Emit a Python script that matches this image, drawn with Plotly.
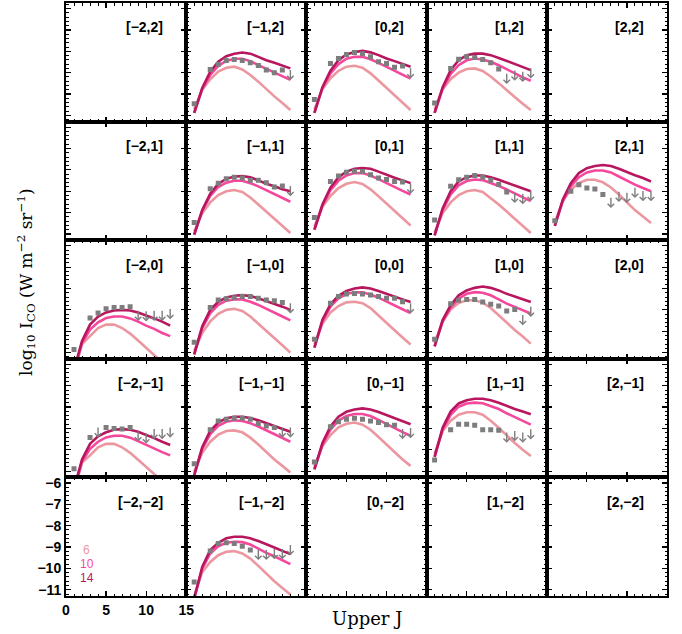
import plotly.graph_objects as go
from plotly.subplots import make_subplots

# ---------------- data ----------------
J_OBS = [1, 3, 4, 5, 6, 7, 8, 9, 10, 11, 12, 13]
J_MOD = [1, 2, 3, 4, 5, 6, 7, 8, 9, 10, 11, 12, 13]

GRID_X = [-2, -1, 0, 1, 2]      # column offsets
GRID_Y = [2, 1, 0, -1, -2]      # row offsets

PANEL_POS = [(-1, 2), (0, 2), (1, 2),
             (-1, 1), (0, 1), (1, 1), (2, 1),
             (-2, 0), (-1, 0), (0, 0), (1, 0),
             (-2, -1), (-1, -1), (0, -1), (1, -1),
             (-1, -2)]

OBS = [
    [-10.45, -8.85, -8.62, -8.43, -8.38, -8.43, -8.54, -8.66, -8.88, -9.00, -8.88, -8.80],
    [-10.26, -8.57, -8.34, -8.15, -8.06, -8.11, -8.26, -8.49, -8.57, -8.75, -8.69, -8.72],
    [-10.42, -8.80, -8.37, -8.26, -8.29, -8.38, -8.54, -8.83, -8.98, -8.83, -8.89, -8.72],
    [-10.46, -8.88, -8.62, -8.42, -8.34, -8.38, -8.49, -8.49, -8.60, -8.80, -8.75, -8.68],
    [-10.23, -8.54, -8.29, -8.11, -8.06, -8.08, -8.23, -8.38, -8.45, -8.54, -8.57, -8.57],
    [-10.34, -8.77, -8.46, -8.34, -8.26, -8.34, -8.49, -8.68, -9.03, -9.00, -9.06, -8.91],
    [-10.38, -9.00, -8.69, -8.85, -8.89, -9.15, -9.23, -8.95, -9.00, -8.77, -8.92, -8.92],
    [-10.85, -9.38, -9.15, -8.95, -8.89, -8.89, -8.85, -8.97, -9.00, -8.97, -8.97, -8.89],
    [-10.51, -8.89, -8.54, -8.48, -8.43, -8.38, -8.38, -8.46, -8.54, -8.57, -8.66, -8.62],
    [-10.38, -8.69, -8.38, -8.26, -8.23, -8.26, -8.31, -8.38, -8.46, -8.46, -8.62, -8.62],
    [-10.37, -8.71, -8.55, -8.51, -8.51, -8.63, -8.74, -8.82, -9.05, -8.98, -9.17, -8.78],
    [-10.88, -9.42, -8.88, -8.95, -9.00, -9.03, -8.95, -9.06, -9.15, -8.95, -8.95, -8.88],
    [-10.65, -9.06, -8.65, -8.57, -8.52, -8.52, -8.57, -8.77, -8.88, -8.95, -8.88, -8.88],
    [-10.57, -8.92, -8.68, -8.57, -8.52, -8.57, -8.65, -8.72, -8.83, -8.85, -8.95, -8.91],
    [-10.47, -9.06, -8.80, -8.80, -8.85, -9.06, -9.06, -9.08, -9.12, -9.05, -9.12, -8.97],
    [-10.64, -9.18, -8.83, -8.80, -8.83, -8.96, -9.14, -9.06, -9.06, -9.02, -9.02, -8.83],
]

# 1 = upper limit (drawn as arrow)
UPPER = [
    [0, 0, 0, 0, 0, 0, 0, 0, 0, 0, 0, 1],
    [0, 0, 0, 0, 0, 0, 0, 0, 0, 0, 0, 1],
    [0, 0, 0, 0, 0, 0, 0, 0, 1, 1, 1, 1],
    [0, 0, 0, 0, 0, 0, 0, 0, 0, 0, 0, 1],
    [0, 0, 0, 0, 0, 0, 0, 0, 0, 0, 0, 1],
    [0, 0, 0, 0, 0, 0, 0, 0, 0, 1, 1, 1],
    [0, 0, 0, 0, 0, 0, 1, 1, 1, 1, 1, 1],
    [0, 0, 0, 0, 0, 0, 0, 1, 1, 1, 1, 1],
    [0, 0, 0, 0, 0, 0, 0, 0, 0, 0, 0, 1],
    [0, 0, 0, 0, 0, 0, 0, 0, 0, 0, 0, 1],
    [0, 0, 0, 0, 0, 0, 0, 0, 0, 0, 1, 1],
    [0, 0, 1, 0, 0, 0, 0, 1, 1, 1, 1, 1],
    [0, 0, 0, 0, 0, 0, 0, 0, 0, 0, 1, 1],
    [0, 0, 0, 0, 0, 0, 0, 0, 0, 0, 1, 1],
    [0, 0, 0, 0, 0, 0, 0, 0, 1, 1, 1, 1],
    [0, 0, 0, 0, 0, 0, 0, 1, 1, 1, 1, 1],
]

MOD14 = [
    [-10.88, -9.72, -8.95, -8.49, -8.23, -8.11, -8.06, -8.11, -8.26, -8.42, -8.54, -8.68, -8.80],
    [-10.88, -9.68, -8.91, -8.42, -8.15, -8.03, -7.98, -8.05, -8.18, -8.34, -8.46, -8.60, -8.72],
    [-10.88, -9.68, -8.88, -8.42, -8.18, -8.11, -8.11, -8.18, -8.31, -8.45, -8.60, -8.72, -8.88],
    [-11.03, -9.88, -9.11, -8.65, -8.42, -8.31, -8.29, -8.35, -8.49, -8.65, -8.77, -8.91, -9.00],
    [-10.80, -9.62, -8.83, -8.34, -8.08, -7.95, -7.91, -7.95, -8.08, -8.23, -8.37, -8.49, -8.62],
    [-11.06, -9.80, -9.00, -8.54, -8.34, -8.26, -8.26, -8.34, -8.46, -8.60, -8.75, -8.88, -9.00],
    [-10.62, -9.38, -8.62, -8.15, -7.92, -7.82, -7.77, -7.82, -7.95, -8.11, -8.25, -8.38, -8.54],
    [-11.80, -10.45, -9.69, -9.31, -9.12, -9.03, -9.00, -9.03, -9.12, -9.25, -9.40, -9.55, -9.74],
    [-11.08, -9.77, -9.00, -8.62, -8.42, -8.34, -8.31, -8.35, -8.46, -8.58, -8.72, -8.85, -9.00],
    [-10.77, -9.46, -8.74, -8.34, -8.12, -8.00, -7.95, -8.00, -8.12, -8.26, -8.38, -8.51, -8.63],
    [-10.71, -9.48, -8.78, -8.32, -8.09, -7.97, -7.91, -7.97, -8.09, -8.25, -8.37, -8.51, -8.63],
    [-11.80, -10.45, -9.72, -9.37, -9.18, -9.06, -9.03, -9.06, -9.15, -9.29, -9.45, -9.62, -9.77],
    [-11.18, -9.88, -9.11, -8.72, -8.52, -8.45, -8.45, -8.51, -8.62, -8.75, -8.89, -9.03, -9.15],
    [-10.91, -9.68, -8.91, -8.45, -8.22, -8.11, -8.06, -8.11, -8.23, -8.38, -8.52, -8.66, -8.80],
    [-10.33, -8.97, -8.21, -7.83, -7.68, -7.61, -7.61, -7.68, -7.80, -7.95, -8.09, -8.21, -8.33],
    [-11.40, -9.93, -9.14, -8.80, -8.59, -8.52, -8.52, -8.59, -8.72, -8.86, -9.02, -9.18, -9.33],
]

MOD10 = [
    [-10.88, -9.77, -9.11, -8.68, -8.45, -8.35, -8.35, -8.46, -8.65, -8.82, -8.98, -9.15, -9.34],
    [-10.88, -9.72, -9.03, -8.60, -8.35, -8.26, -8.26, -8.37, -8.54, -8.72, -8.91, -9.09, -9.28],
    [-10.88, -9.77, -9.06, -8.65, -8.42, -8.34, -8.38, -8.49, -8.65, -8.85, -9.03, -9.22, -9.38],
    [-11.03, -9.92, -9.22, -8.80, -8.60, -8.51, -8.51, -8.62, -8.77, -8.95, -9.14, -9.31, -9.49],
    [-10.80, -9.68, -8.95, -8.51, -8.26, -8.15, -8.15, -8.26, -8.43, -8.62, -8.80, -8.98, -9.15],
    [-11.06, -9.88, -9.15, -8.72, -8.52, -8.45, -8.48, -8.60, -8.75, -8.92, -9.11, -9.29, -9.46],
    [-10.62, -9.46, -8.77, -8.34, -8.12, -8.03, -8.03, -8.12, -8.31, -8.51, -8.69, -8.85, -9.00],
    [-11.90, -10.55, -9.92, -9.58, -9.38, -9.31, -9.31, -9.40, -9.55, -9.74, -9.89, -10.08, -10.23],
    [-11.08, -9.85, -9.15, -8.77, -8.57, -8.51, -8.51, -8.62, -8.77, -8.94, -9.12, -9.31, -9.49],
    [-10.77, -9.54, -8.85, -8.46, -8.26, -8.18, -8.18, -8.28, -8.43, -8.62, -8.80, -8.97, -9.15],
    [-10.71, -9.55, -8.89, -8.48, -8.25, -8.17, -8.20, -8.32, -8.51, -8.71, -8.86, -9.02, -9.17],
    [-11.90, -10.55, -9.95, -9.62, -9.42, -9.34, -9.34, -9.43, -9.59, -9.77, -9.92, -10.11, -10.26],
    [-11.18, -9.95, -9.26, -8.88, -8.69, -8.62, -8.65, -8.75, -8.91, -9.09, -9.28, -9.45, -9.62],
    [-10.91, -9.77, -9.06, -8.63, -8.42, -8.32, -8.32, -8.42, -8.60, -8.80, -8.98, -9.17, -9.34],
    [-10.33, -9.05, -8.36, -7.98, -7.83, -7.79, -7.82, -7.94, -8.09, -8.29, -8.47, -8.64, -8.82],
    [-11.40, -10.01, -9.30, -8.96, -8.80, -8.75, -8.77, -8.88, -9.07, -9.27, -9.43, -9.62, -9.80],
]

MOD6 = [
    [-10.72, -9.80, -9.31, -8.95, -8.77, -8.72, -8.85, -9.11, -9.42, -9.77, -10.11, -10.42, -10.75],
    [-10.72, -9.77, -9.26, -8.91, -8.72, -8.68, -8.77, -9.03, -9.37, -9.72, -10.08, -10.42, -10.75],
    [-10.72, -9.77, -9.31, -9.00, -8.83, -8.80, -8.92, -9.18, -9.49, -9.83, -10.14, -10.45, -10.75],
    [-10.88, -10.03, -9.52, -9.18, -9.00, -8.94, -9.03, -9.29, -9.62, -9.95, -10.29, -10.62, -10.95],
    [-10.65, -9.72, -9.22, -8.85, -8.65, -8.57, -8.66, -8.91, -9.23, -9.58, -9.92, -10.26, -10.60],
    [-10.91, -10.03, -9.52, -9.18, -9.00, -8.94, -9.03, -9.31, -9.62, -9.95, -10.29, -10.62, -10.95],
    [-10.46, -9.46, -8.92, -8.62, -8.46, -8.46, -8.58, -8.82, -9.15, -9.54, -9.88, -10.18, -10.49],
    [-11.90, -10.60, -10.23, -9.85, -9.69, -9.69, -9.85, -10.11, -10.43, -10.77, -11.10, -11.46, -11.80],
    [-10.92, -10.08, -9.54, -9.18, -9.00, -8.95, -9.05, -9.31, -9.65, -10.00, -10.34, -10.66, -11.00],
    [-10.62, -9.65, -9.12, -8.82, -8.65, -8.62, -8.69, -8.92, -9.26, -9.62, -9.95, -10.29, -10.62],
    [-10.55, -9.55, -8.98, -8.68, -8.55, -8.55, -8.66, -8.91, -9.25, -9.60, -9.94, -10.25, -10.58],
    [-11.90, -10.60, -10.26, -9.88, -9.72, -9.72, -9.88, -10.14, -10.46, -10.80, -11.14, -11.50, -11.80],
    [-11.03, -10.14, -9.62, -9.29, -9.12, -9.09, -9.18, -9.43, -9.75, -10.11, -10.45, -10.75, -11.06],
    [-10.80, -9.83, -9.31, -8.95, -8.78, -8.72, -8.82, -9.06, -9.40, -9.75, -10.11, -10.45, -10.75],
    [-10.18, -9.12, -8.64, -8.36, -8.24, -8.24, -8.36, -8.64, -8.97, -9.33, -9.68, -10.00, -10.29],
    [-11.30, -10.17, -9.70, -9.38, -9.22, -9.19, -9.30, -9.54, -9.88, -10.25, -10.60, -10.91, -11.22],
]

MODEL_NAMES = ["6", "10", "14"]
X_TICKS = [0, 5, 10, 15]
Y_TICKS = [-6, -7, -8, -9, -10, -11]

# ---------------- style ----------------
C6, C10, C14 = "#EC979F", "#F5489C", "#B8175F"
GRAY = "#7d7d7d"
XR = [0, 15]
YR = [-11.29, -5.74]
ARROW_LEN = 0.55

fig = make_subplots(rows=5, cols=5, horizontal_spacing=0, vertical_spacing=0)


def ax_id(r, c):
    k = (r - 1) * 5 + c
    return "" if k == 1 else str(k)


annotations = []
for p, (px, py) in enumerate(PANEL_POS):
    c = GRID_X.index(px) + 1
    r = GRID_Y.index(py) + 1
    k = ax_id(r, c)
    for ys, col in ((MOD6[p], C6), (MOD10[p], C10), (MOD14[p], C14)):
        fig.add_trace(go.Scatter(x=J_MOD, y=ys, mode="lines",
                                 line=dict(color=col, width=2.6),
                                 showlegend=False, hoverinfo="skip"),
                      row=r, col=c)
    xs = [j for j, u in zip(J_OBS, UPPER[p]) if not u]
    vs = [v for v, u in zip(OBS[p], UPPER[p]) if not u]
    fig.add_trace(go.Scatter(x=xs, y=vs, mode="markers",
                             marker=dict(symbol="square", size=5, color=GRAY),
                             showlegend=False, hoverinfo="skip"),
                  row=r, col=c)
    for j, v, u in zip(J_OBS, OBS[p], UPPER[p]):
        if u:
            annotations.append(dict(
                x=j, y=v - ARROW_LEN, ax=j, ay=v,
                xref="x" + k, yref="y" + k, axref="x" + k, ayref="y" + k,
                text="", showarrow=True, arrowhead=4, arrowsize=0.9,
                arrowwidth=1.4, arrowcolor=GRAY))

# panel labels
lab_font = dict(family="Liberation Sans", size=14, color="black", weight="bold")
for ci, gx in enumerate(GRID_X):
    for ri, gy in enumerate(GRID_Y):
        k = ax_id(ri + 1, ci + 1)
        txt = "[" + str(gx).replace("-", "\u2212") + "," + str(gy).replace("-", "\u2212") + "]"
        annotations.append(dict(x=12.4, y=-6.88, xref="x" + k, yref="y" + k,
                                text=txt, showarrow=False, xanchor="right",
                                yanchor="middle", font=lab_font))

# legend numbers in the [-2,-2] panel
k = ax_id(5, 1)
for name, col, yy in zip(MODEL_NAMES, (C6, C10, C14), (-9.14, -9.79, -10.44)):
    annotations.append(dict(x=2.6, y=yy, xref="x" + k, yref="y" + k, text=name,
                            showarrow=False, xanchor="center", yanchor="middle",
                            font=dict(family="Liberation Sans", size=12, color=col)))

# axis titles
annotations.append(dict(x=-0.066, y=0.53, xref="paper", yref="paper",
                        text="log<sub>10</sub> I<sub>CO</sub> (W m<sup>\u22122</sup> sr<sup>\u22121</sup>)",
                        textangle=-90, showarrow=False, xanchor="center", yanchor="middle",
                        font=dict(family="DejaVu Serif", size=17, color="black")))
annotations.append(dict(x=0.5, y=-0.038, xref="paper", yref="paper",
                        text="Upper J", showarrow=False, xanchor="center", yanchor="middle",
                        font=dict(family="DejaVu Serif", size=18, color="black")))

fig.update_xaxes(range=XR, showgrid=False, zeroline=False, showline=True,
                 linecolor="black", linewidth=2, mirror="ticks",
                 ticks="inside", ticklen=5, tickwidth=1.2, tickcolor="black",
                 tickvals=X_TICKS, showticklabels=False,
                 minor=dict(dtick=1, tick0=0, ticks="inside", ticklen=2.5,
                            tickwidth=1, tickcolor="black"),
                 tickfont=dict(family="Liberation Sans", size=14, color="black", weight="bold"))
fig.update_yaxes(range=YR, showgrid=False, zeroline=False, showline=True,
                 linecolor="black", linewidth=2, mirror="ticks",
                 ticks="inside", ticklen=5, tickwidth=1.2, tickcolor="black",
                 tickvals=Y_TICKS, showticklabels=False,
                 minor=dict(dtick=0.2, tick0=0, ticks="inside", ticklen=2.5,
                            tickwidth=1, tickcolor="black"),
                 tickfont=dict(family="Liberation Sans", size=14, color="black", weight="bold"))
fig.update_xaxes(showticklabels=True, row=5, col=1)
fig.update_yaxes(showticklabels=True, row=5, col=1)

fig.update_layout(width=682, height=634,
                  margin=dict(l=66, r=15, t=3, b=38, autoexpand=False),
                  paper_bgcolor="white", plot_bgcolor="white",
                  showlegend=False, annotations=annotations)

fig.write_html("out.html",
               config={"displayModeBar": False, "staticPlot": True},
               post_script="document.body.style.margin='0';document.body.style.overflow='hidden';")
